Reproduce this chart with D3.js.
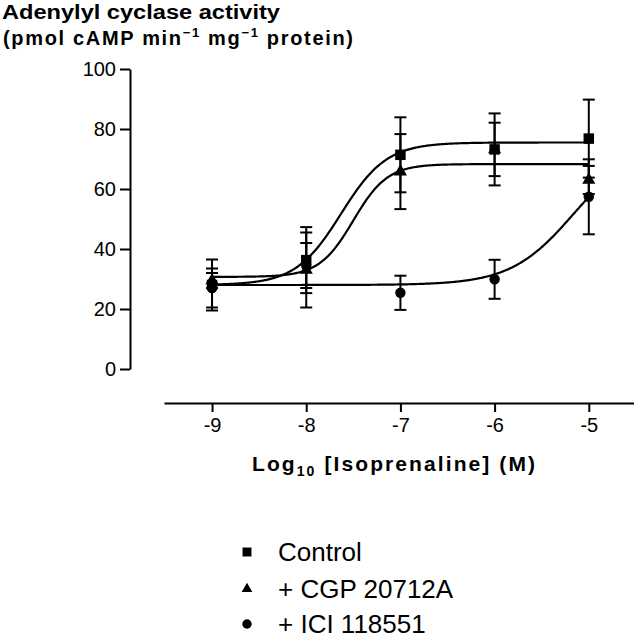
<!DOCTYPE html>
<html>
<head>
<meta charset="utf-8">
<script src="https://cdn.jsdelivr.net/npm/d3@7"></script>
<style>
  html, body { margin: 0; padding: 0; background: #fff; }
  svg { display: block; }
  text { font-family: "Liberation Sans", Arial, Helvetica, sans-serif; fill: #000; }
</style>
</head>
<body>
<svg id="chart" width="634" height="640"></svg>
<script>
// ---- Data ----
const logConc = [-9, -8, -7, -6, -5];
const xTicks = [-9, -8, -7, -6, -5];
const yTicks = [0, 20, 40, 60, 80, 100];

const controlMean = [28, 36.3, 71.4, 73.2, 76.8];
const controlSem  = [8.5, 11, 12.5, 12, 13];
const cgpMean     = [29.5, 33, 65.8, 73.2, 63];
const cgpSem      = [2.5, 12.5, 12.5, 8.9, 4.7];
const iciMean     = [27, 34.5, 25.4, 29.9, 57.4];
const iciSem      = [6.5, 7.5, 5.7, 6.5, 12.5];

// fitted sigmoid parameters: [bottom, top, logEC50, hill]
const controlFit = [28, 75.5, -7.63, 1.8];
const cgpFit     = [30.7, 68.3, -7.5, 2.4];
const iciFit     = [28, 75.5, -5.16, 1.3];

const seriesNames = ["Control", "+ CGP 20712A", "+ ICI 118551"];
const seriesShapes = ["square", "triangle", "circle"];

// ---- Layout ----
const svg = d3.select("#chart");
const x = d3.scaleLinear().domain([-9.51, -4.52]).range([164, 634]);
const y = d3.scaleLinear().domain([0, 100]).range([369, 69]);

const series = [
  { name: seriesNames[0], shape: seriesShapes[0], mean: controlMean, sem: controlSem, fit: controlFit },
  { name: seriesNames[1], shape: seriesShapes[1], mean: cgpMean, sem: cgpSem, fit: cgpFit },
  { name: seriesNames[2], shape: seriesShapes[2], mean: iciMean, sem: iciSem, fit: iciFit }
];

// ---- Axes ----
const yAxis = d3.axisLeft(y).tickValues(yTicks).tickSize(10).tickPadding(4).tickSizeOuter(0);
const gy = svg.append("g").attr("transform", "translate(130,0)").call(yAxis);
gy.select(".domain").attr("stroke-width", 2);
gy.selectAll(".tick line").attr("stroke-width", 2);
gy.selectAll(".tick text").style("font-size", "20px");

const xAxis = d3.axisBottom(x).tickValues(xTicks).tickSize(9).tickPadding(6).tickSizeOuter(0)
  .tickFormat(d => String(d));
const gx = svg.append("g").attr("transform", "translate(0,403)").call(xAxis);
gx.select(".domain").attr("stroke-width", 2);
gx.selectAll(".tick line").attr("stroke-width", 2);
gx.selectAll(".tick text").style("font-size", "20px");

// ---- Titles ----
svg.append("text").attr("x", 2).attr("y", 19)
  .style("font-size", "20px").style("font-weight", "bold")
  .attr("textLength", 278).attr("lengthAdjust", "spacingAndGlyphs")
  .text("Adenylyl cyclase activity");

const t2 = svg.append("text").attr("x", 3).attr("y", 45)
  .style("font-size", "20px").style("font-weight", "bold")
  .attr("textLength", 350).attr("lengthAdjust", "spacing");
t2.append("tspan").text("(pmol cAMP min");
t2.append("tspan").attr("dy", -8).style("font-size", "13px").text("\u22121");
t2.append("tspan").attr("dy", 8).text(" mg");
t2.append("tspan").attr("dy", -8).style("font-size", "13px").text("\u22121");
t2.append("tspan").attr("dy", 8).text(" protein)");

const xl = svg.append("text").attr("x", 252).attr("y", 471)
  .style("font-size", "21px").style("font-weight", "bold")
  .attr("textLength", 283).attr("lengthAdjust", "spacing");
xl.append("tspan").text("Log");
xl.append("tspan").attr("dy", 5).style("font-size", "14px").text("10");
xl.append("tspan").attr("dy", -5).text(" [Isoprenaline] (M)");

// ---- Curves ----
const sigmoid = (p, v) => p[0] + (p[1] - p[0]) / (1 + Math.pow(10, p[3] * (p[2] - v)));
const curveX = d3.range(0, 401).map(i => logConc[0] + i * (logConc[4] - logConc[0]) / 400);
const line = d3.line().x(d => x(d[0])).y(d => y(d[1]));
series.forEach(s => {
  svg.append("path")
    .datum(curveX.map(v => [v, sigmoid(s.fit, v)]))
    .attr("d", line).attr("fill", "none").attr("stroke", "#000").attr("stroke-width", 2.2);
});

// ---- Error bars ----
const capW = 6;
series.forEach(s => {
  const g = svg.append("g").attr("stroke", "#000").attr("stroke-width", 2);
  logConc.forEach((c, i) => {
    const cx = x(c), top = y(s.mean[i] + s.sem[i]), bot = y(s.mean[i] - s.sem[i]);
    g.append("line").attr("x1", cx).attr("x2", cx).attr("y1", top).attr("y2", bot);
    g.append("line").attr("x1", cx - capW).attr("x2", cx + capW).attr("y1", top).attr("y2", top);
    g.append("line").attr("x1", cx - capW).attr("x2", cx + capW).attr("y1", bot).attr("y2", bot);
  });
});

// ---- Markers ----
const symType = { square: d3.symbolSquare, triangle: d3.symbolTriangle, circle: d3.symbolCircle };
const symSize = { square: 110, triangle: 75, circle: 85 };
// draw in order ICI, CGP, Control so control squares are on top
[2, 1, 0].forEach(k => {
  const s = series[k];
  svg.append("g").selectAll("path").data(logConc).join("path")
    .attr("transform", (c, i) => `translate(${x(c)},${y(s.mean[i])})`)
    .attr("d", d3.symbol().type(symType[s.shape]).size(symSize[s.shape]))
    .attr("fill", "#000");
});

// ---- Legend ----
const legendY = [561, 598, 633];
const legSize = { square: 80, triangle: 50, circle: 70 };
series.forEach((s, i) => {
  svg.append("path")
    .attr("transform", `translate(247,${legendY[i] - 9})`)
    .attr("d", d3.symbol().type(symType[s.shape]).size(legSize[s.shape]))
    .attr("fill", "#000");
  svg.append("text").attr("x", 278).attr("y", legendY[i])
    .style("font-size", "26px").text(s.name);
});
</script>
</body>
</html>
